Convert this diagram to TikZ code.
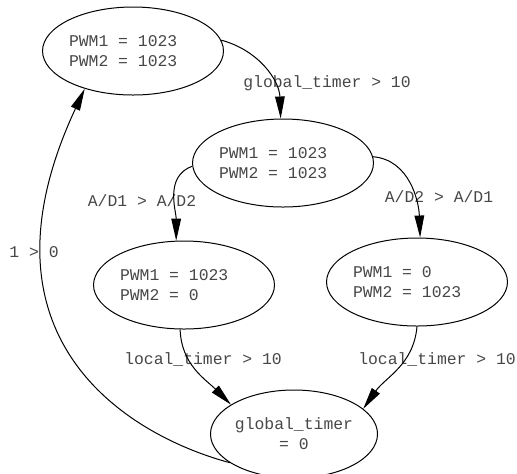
\documentclass[tikz,border=0pt]{standalone}
\usepackage{fontspec}
\setmonofont{Liberation Mono}
\usetikzlibrary{arrows.meta,shapes.geometric}

\newcommand{\pad}{\hphantom{00}}

\begin{document}
\begin{tikzpicture}[
  x=0.5pt,
  y=0.5pt,
  >={Triangle[length=11pt,width=4.8pt]},
  flow/.style={->,line width=.5pt},
  state/.style={draw,ellipse,line width=.5pt,inner sep=0pt,
    minimum width=80pt,minimum height=44pt},
  pwm/.style={state,align=left},
  ttext/.style={font=\ttfamily\fontsize{8.2}{10}\selectfont,text=black!72},
  guard/.style={ttext,inner sep=0pt}
]
\useasboundingbox (0,0) rectangle (517,-473);

\node[pwm,ttext] (start) at (133,-51)
  {PWM1 = 1023\pad\\PWM2 = 1023};
\node[pwm,ttext] (check) at (283,-163)
  {PWM1 = 1023\pad\\PWM2 = 1023};
\node[pwm,ttext] (left) at (184,-285)
  {PWM1 = 1023\pad\\PWM2 = 0};
\node[pwm,ttext] (right) at (417,-282)
  {PWM1 = 0\\PWM2 = 1023\pad};
\node[state,ttext,align=center] (reset) at (294,-434)
  {global\_timer\\= 0};

\node[guard] (gtimer) at (327,-83) {global\_timer > 10};
\node[guard] (adone) at (142,-201) {A/D1 > A/D2};
\node[guard] (adtwo) at (439,-197) {A/D2 > A/D1};
\node[guard] (ltleft) at (203,-359) {local\_timer > 10};
\node[guard] (ltright) at (437,-359) {local\_timer > 10};
\node[guard] (always) at (34,-252) {1 > 0};

\draw[flow] (start.7) to[out=-15,in=92] (check.93);
\draw[flow] (check.182) to[out=200,in=90] (left.100);
\draw[flow] (check.4) to[out=-5,in=92] (right.86);
\draw[flow] (left.265) to[out=-88,in=135] (reset.155);
\draw[flow] (right.270) to[out=-95,in=55] (reset.20);
\draw[flow] (reset.204) .. controls +(165:100) and +(245:280) .. (start.218);

\end{tikzpicture}
\end{document}
